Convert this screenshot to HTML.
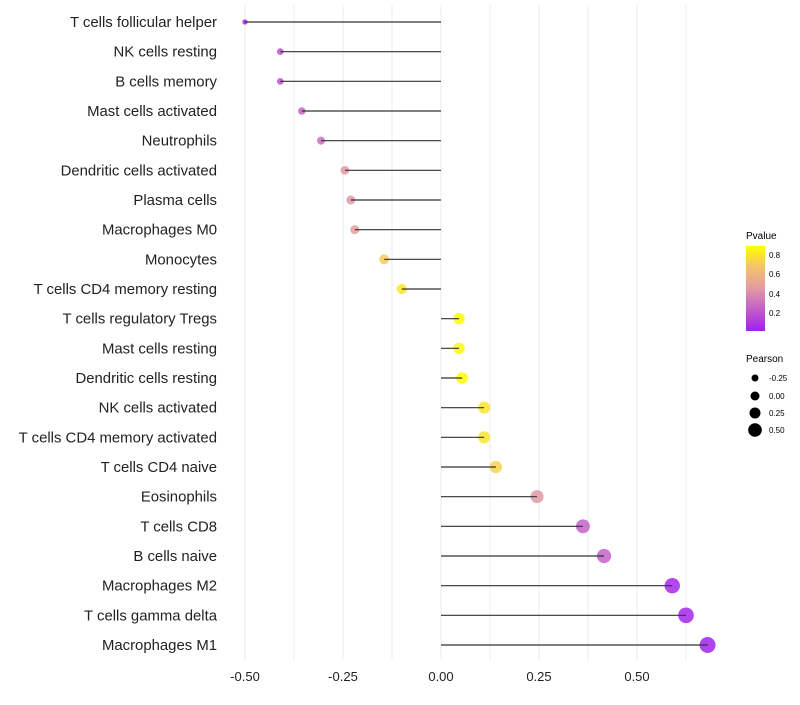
<!DOCTYPE html>
<html><head><meta charset="utf-8"><style>
body{margin:0;background:#fff;font-family:"Liberation Sans",sans-serif}
</style></head><body>
<svg id="chart" width="800" height="700" xmlns="http://www.w3.org/2000/svg">
<defs><linearGradient id="pg" x1="0" y1="1" x2="0" y2="0">
<stop offset="0" stop-color="#A020F0"/><stop offset="0.5" stop-color="#E39AA3"/><stop offset="0.78" stop-color="#F5C860"/><stop offset="1" stop-color="#FFFF00"/></linearGradient></defs>
<g id="grid"></g><g id="dots"></g><g id="stems"></g><g id="labels"></g><g id="xticks"></g>
<g>
<text x="746" y="239" font-size="10">Pvalue</text>
<rect x="746" y="246" width="19" height="85" fill="url(#pg)"/>
<text x="769" y="258" font-size="8">0.8</text><text x="769" y="277" font-size="8">0.6</text>
<text x="769" y="297" font-size="8">0.4</text><text x="769" y="316" font-size="8">0.2</text>
</g>
<g>
<text x="746" y="362" font-size="10">Pearson</text>
<circle cx="755" cy="378" r="3.5"/><text x="769" y="381" font-size="8">-0.25</text>
<circle cx="755" cy="396" r="4.5"/><text x="769" y="399" font-size="8">0.00</text>
<circle cx="755" cy="413" r="5.5"/><text x="769" y="416" font-size="8">0.25</text>
<circle cx="755" cy="430" r="6.8"/><text x="769" y="433" font-size="8">0.50</text>
</g>
</svg>
<script>
const categories=["T cells follicular helper","NK cells resting","B cells memory","Mast cells activated","Neutrophils","Dendritic cells activated","Plasma cells","Macrophages M0","Monocytes","T cells CD4 memory resting","T cells regulatory  Tregs ","Mast cells resting","Dendritic cells resting","NK cells activated","T cells CD4 memory activated","T cells CD4 naive","Eosinophils","T cells CD8","B cells naive","Macrophages M2","T cells gamma delta","Macrophages M1"];
const pearson=[-0.50,-0.41,-0.41,-0.355,-0.306,-0.245,-0.23,-0.22,-0.145,-0.10,0.046,0.046,0.054,0.11,0.11,0.14,0.245,0.362,0.416,0.59,0.625,0.68];
const pvalue=[0.03,0.2,0.2,0.25,0.3,0.45,0.45,0.47,0.72,0.8,0.88,0.88,0.88,0.8,0.8,0.74,0.45,0.25,0.25,0.05,0.05,0.03];
const xTicks=[-0.5,-0.25,0,0.25,0.5];
const xTickLabels=["-0.50","-0.25","0.00","0.25","0.50"];
const NS="http://www.w3.org/2000/svg";
const x=v=>441+v*392;
const y=i=>22+i*(623/21);
const r=v=>Math.sqrt(Math.max(4,31+48*v));
function lerp(a,b,t){return a.map((c,k)=>Math.round(c+(b[k]-c)*t));}
function col(p){const lo=0.02,hi=0.89;let t=Math.min(1,Math.max(0,(p-lo)/(hi-lo)));
const A=[160,32,240],M=[227,154,163],O=[245,200,96],B=[255,255,0];
let c;if(t<0.5)c=lerp(A,M,t*2);else if(t<0.78)c=lerp(M,O,(t-0.5)/0.28);else c=lerp(O,B,(t-0.78)/0.22);
return `rgb(${c})`;}
function mk(tag,at,parent){const e=document.createElementNS(NS,tag);for(const k in at)e.setAttribute(k,at[k]);document.getElementById(parent).appendChild(e);return e;}
for(let v=-0.5;v<=0.625+1e-9;v+=0.125){const g=mk('line',{x1:x(v),x2:x(v),y1:5,y2:660,stroke:'#ebebeb','stroke-width':1},'grid');

}
xTicks.forEach((v,i)=>{const t=mk('text',{x:x(v),y:681,'font-size':13,'text-anchor':'middle',fill:'#222'},'xticks');t.textContent=xTickLabels[i];

});
categories.forEach((c,i)=>{
const d=mk('circle',{cx:x(pearson[i]),cy:y(i),r:r(pearson[i]),fill:col(pvalue[i]),'fill-opacity':0.85},'dots');


const l=mk('line',{x1:x(0),x2:x(pearson[i]),y1:y(i),y2:y(i),stroke:'#333','stroke-width':1.2},'stems');


const t=mk('text',{x:217,y:y(i)+5,'font-size':14.9,'text-anchor':'end',fill:'#222','xml:space':'preserve'},'labels');t.textContent=c;

});
</script>
</body></html>
